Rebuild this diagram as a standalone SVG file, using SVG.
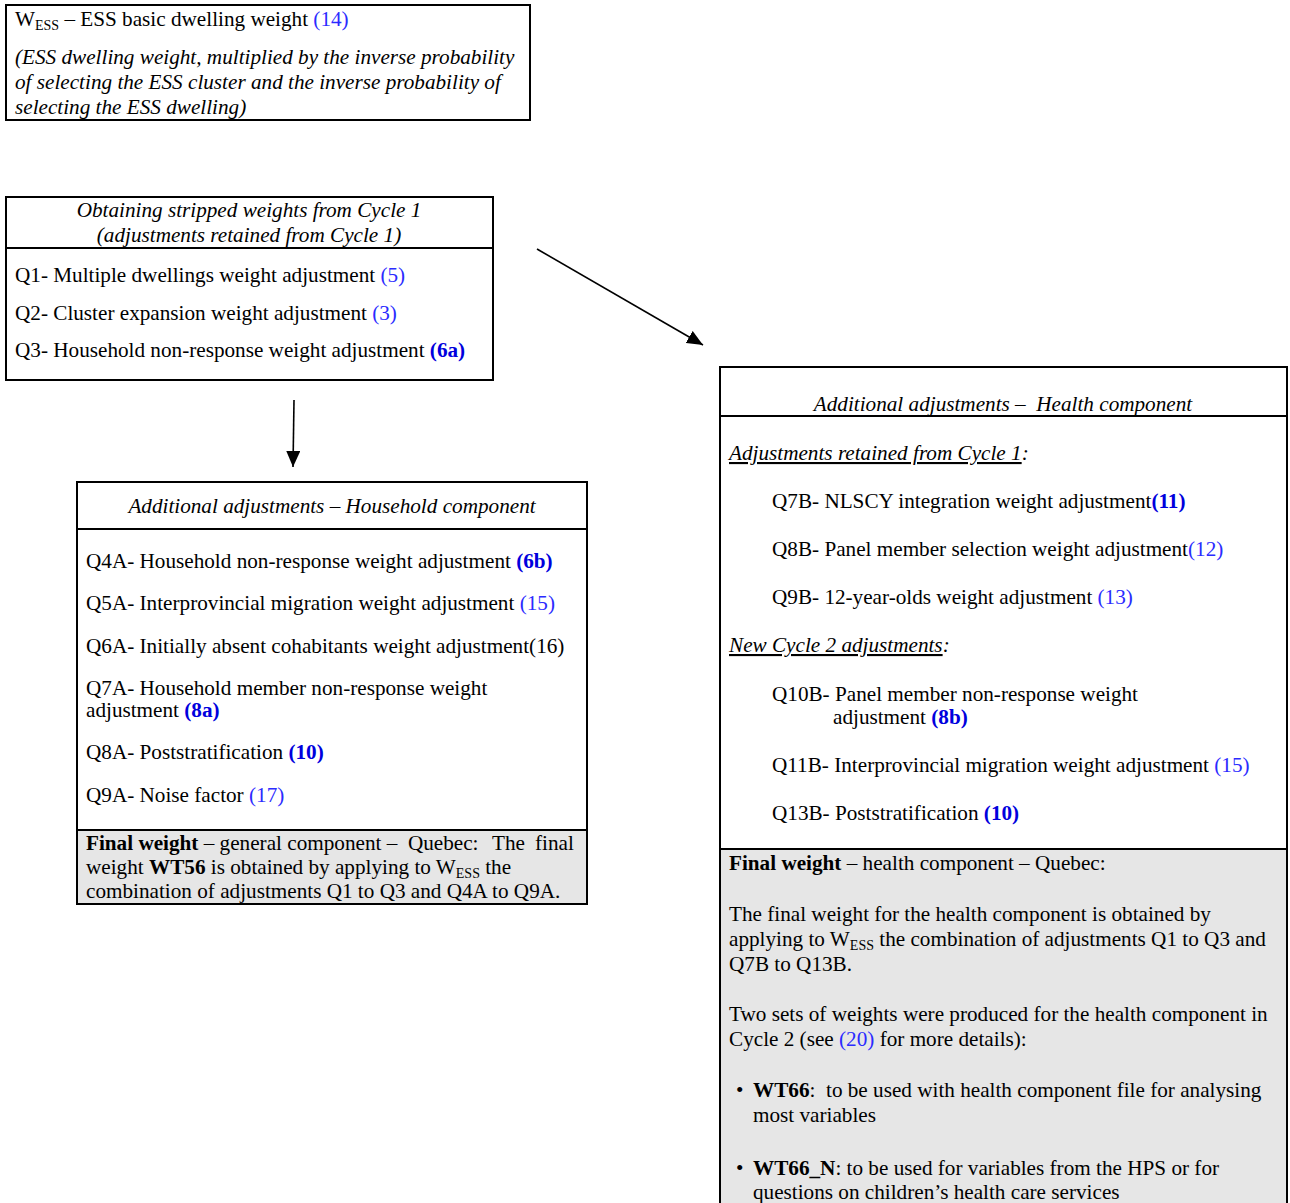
<svg xmlns="http://www.w3.org/2000/svg" width="1290" height="1203" viewBox="0 0 1290 1203">
<style>
text{font-family:"Liberation Serif","Times New Roman",serif;font-size:21.2px;fill:#000}
.box{fill:#fff;stroke:#000;stroke-width:2}
.gray{fill:#e6e6e6;stroke:#000;stroke-width:2}
.sep{stroke:#000;stroke-width:2}
.i{font-style:italic}
.ln{fill:#2b2bff}
.lb{fill:#0000dd;font-weight:bold}
.b{font-weight:bold}
.sub{font-size:14px}
.u{text-decoration:underline}
.c{text-anchor:middle}
.conn{stroke:#000;stroke-width:1.6;fill:none}
</style>
<defs>
<marker id="ah" viewBox="0 0 16 14" refX="16" refY="7" markerWidth="16" markerHeight="14" markerUnits="userSpaceOnUse" orient="auto">
<path d="M0,0 L16,7 L0,14 z" fill="#000"/>
</marker>
</defs>
<rect width="1290" height="1203" fill="#fff"/>

<g id="wess">
<rect class="box" x="6" y="5" width="524" height="115"/>
<text x="15" y="26">W<tspan class="sub" dy="4">ESS</tspan><tspan dy="-4"> – ESS basic dwelling weight </tspan><tspan class="ln">(14)</tspan></text>
<text class="i" x="15" y="64">(ESS dwelling weight, multiplied by the inverse probability</text>
<text class="i" x="15" y="89">of selecting the ESS cluster and the inverse probability of</text>
<text class="i" x="15" y="114">selecting the ESS dwelling)</text>
</g>

<g id="stripped">
<rect class="box" x="6" y="197" width="487" height="183"/>
<line class="sep" x1="6" y1="248" x2="493" y2="248"/>
<text class="i c" x="249" y="217">Obtaining stripped weights from Cycle 1</text>
<text class="i c" x="249" y="242">(adjustments retained from Cycle 1)</text>
<text x="15" y="282">Q1- Multiple dwellings weight adjustment <tspan class="ln">(5)</tspan></text>
<text x="15" y="320">Q2- Cluster expansion weight adjustment <tspan class="ln">(3)</tspan></text>
<text x="15" y="357">Q3- Household non-response weight adjustment <tspan class="lb">(6a)</tspan></text>
</g>

<g id="household">
<rect class="box" x="77" y="482" width="510" height="422"/>
<line class="sep" x1="77" y1="529" x2="587" y2="529"/>
<rect class="gray" x="77" y="830" width="510" height="74"/>
<text class="i c" x="332" y="513">Additional adjustments – Household component</text>
<text x="86" y="568">Q4A- Household non-response weight adjustment <tspan class="lb">(6b)</tspan></text>
<text x="86" y="610">Q5A- Interprovincial migration weight adjustment <tspan class="ln">(15)</tspan></text>
<text x="86" y="653">Q6A- Initially absent cohabitants weight adjustment(16)</text>
<text x="86" y="695">Q7A- Household member non-response weight</text>
<text x="86" y="717">adjustment <tspan class="lb">(8a)</tspan></text>
<text x="86" y="759">Q8A- Poststratification <tspan class="lb">(10)</tspan></text>
<text x="86" y="802">Q9A- Noise factor <tspan class="ln">(17)</tspan></text>
<text x="86" y="850"><tspan class="b">Final weight</tspan> – general component –&#160; Quebec:<tspan x="492">The</tspan><tspan x="535">final</tspan></text>
<text x="86" y="874">weight <tspan class="b">WT56</tspan> is obtained by applying to W<tspan class="sub" dy="4">ESS</tspan><tspan dy="-4"> the</tspan></text>
<text x="86" y="898">combination of adjustments Q1 to Q3 and Q4A to Q9A.</text>
</g>

<g id="health">
<rect class="box" x="720" y="367" width="567" height="850"/>
<line class="sep" x1="720" y1="416" x2="1287" y2="416"/>
<rect class="gray" x="720" y="849" width="567" height="368"/>
<text class="i c" x="1003" y="411">Additional adjustments –&#160; Health component</text>
<text class="i" x="729" y="460"><tspan class="u">Adjustments retained from Cycle 1</tspan>:</text>
<text x="772" y="508">Q7B- NLSCY integration weight adjustment<tspan class="lb">(11)</tspan></text>
<text x="772" y="556">Q8B- Panel member selection weight adjustment<tspan class="ln">(12)</tspan></text>
<text x="772" y="604">Q9B- 12-year-olds weight adjustment <tspan class="ln">(13)</tspan></text>
<text class="i" x="729" y="652"><tspan class="u">New Cycle 2 adjustments</tspan>:</text>
<text x="772" y="701">Q10B- Panel member non-response weight</text>
<text x="833" y="724">adjustment <tspan class="lb">(8b)</tspan></text>
<text x="772" y="772">Q11B- Interprovincial migration weight adjustment <tspan class="ln">(15)</tspan></text>
<text x="772" y="820">Q13B- Poststratification <tspan class="lb">(10)</tspan></text>
<text x="729" y="870"><tspan class="b">Final weight</tspan> – health component – Quebec:</text>
<text x="729" y="921">The final weight for the health component is obtained by</text>
<text x="729" y="946">applying to W<tspan class="sub" dy="4">ESS</tspan><tspan dy="-4"> the combination of adjustments Q1 to Q3 and</tspan></text>
<text x="729" y="971">Q7B to Q13B.</text>
<text x="729" y="1021">Two sets of weights were produced for the health component in</text>
<text x="729" y="1046">Cycle 2 (see <tspan class="ln">(20)</tspan> for more details):</text>
<text x="736" y="1097">•</text>
<text x="753" y="1097"><tspan class="b">WT66</tspan>:&#160; to be used with health component file for analysing</text>
<text x="753" y="1122">most variables</text>
<text x="736" y="1175">•</text>
<text x="753" y="1175"><tspan class="b">WT66_N</tspan>: to be used for variables from the HPS or for</text>
<text x="753" y="1199">questions on children’s health care services</text>
</g>

<g id="connectors">
<line class="conn" x1="537" y1="249" x2="703" y2="345" marker-end="url(#ah)"/>
<line class="conn" x1="294" y1="400" x2="293" y2="467" marker-end="url(#ah)"/>
</g>
</svg>
